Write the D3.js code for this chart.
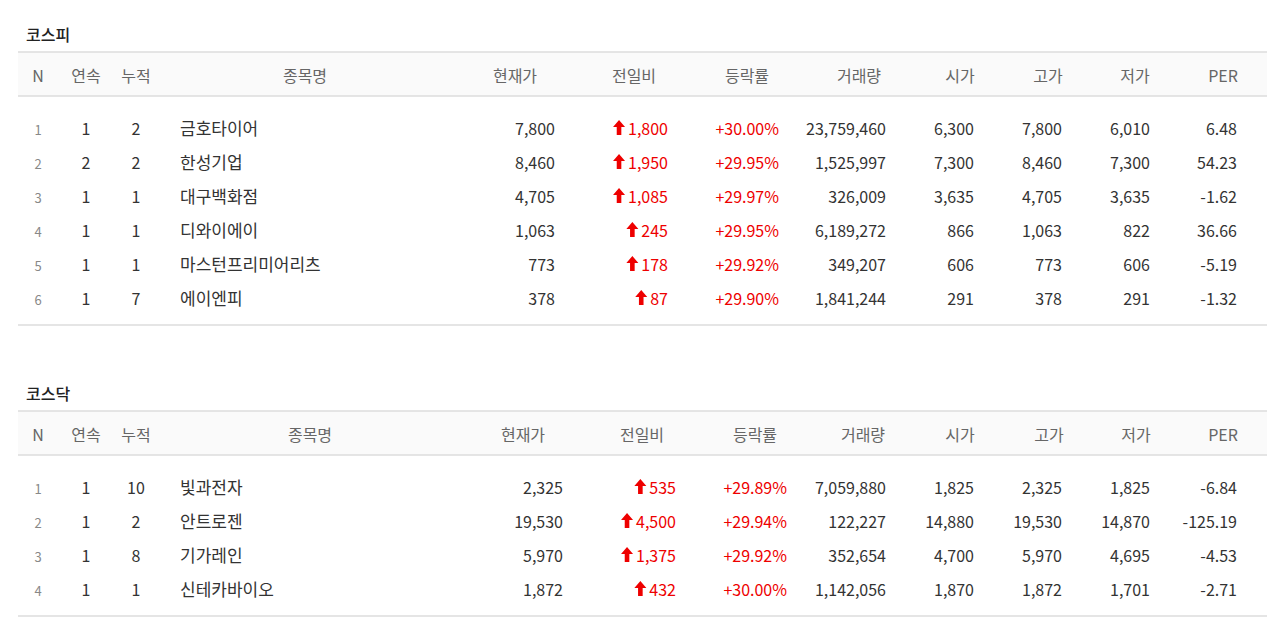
<!DOCTYPE html><html><head><meta charset="utf-8"><script src="https://cdn.jsdelivr.net/npm/d3@7"></script>
<style>body{margin:0;background:#fff}svg{font-family:"Noto Sans CJK KR","Noto Sans",sans-serif}</style></head><body>
<svg id="c" width="1280" height="636"></svg>
<script>
const headers=["N","연속","누적","종목명","현재가","전일비","등락률","거래량","시가","고가","저가","PER"];
const kospiNames=["금호타이어","한성기업","대구백화점","디와이에이","마스턴프리미어리츠","에이엔피"];
const kospiRows=[[1,1,2,"7,800","1,800","+30.00%","23,759,460","6,300","7,800","6,010","6.48"],
[2,2,2,"8,460","1,950","+29.95%","1,525,997","7,300","8,460","7,300","54.23"],
[3,1,1,"4,705","1,085","+29.97%","326,009","3,635","4,705","3,635","-1.62"],
[4,1,1,"1,063","245","+29.95%","6,189,272","866","1,063","822","36.66"],
[5,1,1,"773","178","+29.92%","349,207","606","773","606","-5.19"],
[6,1,7,"378","87","+29.90%","1,841,244","291","378","291","-1.32"]];
const kosdaqNames=["빛과전자","안트로젠","기가레인","신테카바이오"];
const kosdaqRows=[[1,1,10,"2,325","535","+29.89%","7,059,880","1,825","2,325","1,825","-6.84"],
[2,1,2,"19,530","4,500","+29.94%","122,227","14,880","19,530","14,870","-125.19"],
[3,1,8,"5,970","1,375","+29.92%","352,654","4,700","5,970","4,695","-4.53"],
[4,1,1,"1,872","432","+30.00%","1,142,056","1,870","1,872","1,701","-2.71"]];
const svg=d3.select("#c");
function table(title,names,rows,top,hx,rx){
  const g=svg.append("g");
  g.append("text").attr("x",26).attr("y",top-11).attr("font-size",16).attr("font-weight",500).attr("fill","#222").text(title);
  g.append("rect").attr("x",18).attr("y",top).attr("width",1249).attr("height",44).attr("fill","#fafafa");
  [top,top+44].forEach(y=>g.append("line").attr("x1",18).attr("x2",1267).attr("y1",y).attr("y2",y).attr("stroke","#ddd").attr("stroke-width",1.5));
  headers.forEach((h,i)=>g.append("text").attr("x",hx[i]).attr("y",top+30).attr("text-anchor","middle").attr("font-size",16).attr("fill","#666").text(h));
  const y=d3.scaleBand().domain(d3.range(rows.length)).range([top+59,top+59+34*rows.length]);
  rows.forEach((r,k)=>{
    const cy=y(k)+24;
    g.append("text").attr("x",38).attr("y",cy).attr("text-anchor","middle").attr("font-size",13).attr("fill","#888").text(r[0]);
    g.append("text").attr("x",86).attr("y",cy).attr("text-anchor","middle").attr("font-size",16).attr("fill","#333").text(r[1]);
    g.append("text").attr("x",136).attr("y",cy).attr("text-anchor","middle").attr("font-size",16).attr("fill","#333").text(r[2]);
    g.append("text").attr("x",180).attr("y",cy).attr("font-size",17).attr("fill","#333").text(names[k]);
    r.slice(3).forEach((v,j)=>{
      const red=j===1||j===2;
      const t=g.append("text").attr("x",rx[j]).attr("y",cy).attr("text-anchor","end").attr("font-size",16).attr("fill",red?"#e00":"#333").text(v);
      if(j===1){
        const w=t.node().getComputedTextLength();
        const ax=rx[j]-w-9;
        g.append("path").attr("d",`M${ax},${cy-15}L${ax+6},${cy-8}L${ax+2.3},${cy-8}L${ax+2.3},${cy}L${ax-2.3},${cy}L${ax-2.3},${cy-8}L${ax-6},${cy-8}Z`).attr("fill","#e00");
      }
    });
  });
  const b=top+59+34*rows.length+10;
  g.append("line").attr("x1",18).attr("x2",1267).attr("y1",b).attr("y2",b).attr("stroke","#ddd").attr("stroke-width",1.5);
}
table("코스피",kospiNames,kospiRows,52,[38,86,136,305,515,634,747,859,960,1048,1135,1223],[555,668,779,886,974,1062,1150,1237]);
table("코스닥",kosdaqNames,kosdaqRows,411,[38,86,136,310,523,642,755,863,960,1049,1136,1223],[563,676,787,886,974,1062,1150,1237]);
</script></body></html>
